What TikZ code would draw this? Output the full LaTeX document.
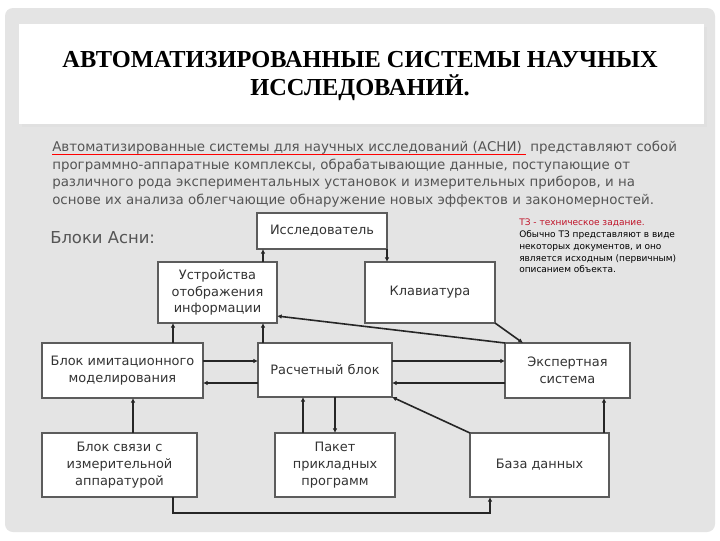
\documentclass[tikz,border=0pt]{standalone}
\usepackage{fontspec}
\setmainfont{DejaVu Sans}
\newfontfamily\titlefont{Liberation Serif}
\usetikzlibrary{arrows.meta,calc}
\definecolor{framegray}{HTML}{E4E4E4}
\definecolor{txtgray}{HTML}{555555}
\definecolor{boxline}{HTML}{5C5C5C}
\definecolor{boxtxt}{HTML}{333333}
\definecolor{noteRed}{HTML}{C0142A}
\newcommand\redul[1]{\leavevmode\setbox0\hbox{#1}\rlap{\textcolor{red}{\rule[-0.35ex]{\wd0}{0.5pt}}}\box0}
\newcommand\mybox[6]{%
  \node[blk,minimum width={0.75pt*(#4-#2)},minimum height={0.75pt*(#5-#3)}]
    (#1) at ({(#2+#4)/2},{(#3+#5)/2}) {#6};}
\tikzset{
  blk/.style={draw=boxline,line width=1.5pt,fill=white,inner sep=1pt,outer sep=0pt,
    align=center,text=boxtxt,font=\fontsize{9.7pt}{12.6pt}\selectfont},
  conn/.style={draw=black!85,line width=1.2pt},
  arr/.style={conn,-{Latex[length=3.5pt,width=3.5pt]}},
}
\begin{document}
\begin{tikzpicture}[x=0.75pt,y=-0.75pt]
\useasboundingbox (0,0) rectangle (720,540);
\fill[white] (0,0) rectangle (720,540);
\fill[framegray,rounded corners=6pt] (5,8) rectangle (715,532);
\fill[black!12] (22,27) rectangle (707,127);
\fill[white] (19,24) rectangle (704,124);
\node[font=\titlefont\bfseries\fontsize{18.3pt}{21pt}\selectfont,align=center] (title) at (360,76)
  {АВТОМАТИЗИРОВАННЫЕ СИСТЕМЫ НАУЧНЫХ\\ИССЛЕДОВАНИЙ.};
\node[anchor=north west,inner sep=0pt,align=left,text=txtgray,
  font=\fontsize{10.05pt}{13.1pt}\selectfont] (para) at (52,141)
  {\redul{Автоматизированные системы для научных исследований (АСНИ)\ }\ представляют собой\\
   программно-аппаратные комплексы, обрабатывающие данные, поступающие от\\
   различного рода экспериментальных установок и измерительных приборов, и на\\
   основе их анализа облегчающие обнаружение новых эффектов и закономерностей.};
\node[anchor=west,inner sep=0pt,text=txtgray,font=\fontsize{12.3pt}{14pt}\selectfont] (bloki) at (50,238) {Блоки Асни:};
\node[anchor=north west,inner sep=0pt,align=left,font=\fontsize{6.75pt}{8.8pt}\selectfont] (note) at (519,219)
  {\textcolor{noteRed}{ТЗ - техническое задание.}\\
   Обычно ТЗ представляют в виде\\
   некоторых документов, и оно\\
   является исходным (первичным)\\
   описанием объекта.};
\mybox{issl}{257}{213}{387}{249}{Исследователь}
\mybox{ust}{158}{262}{277}{323}{Устройства\\отображения\\информации}
\mybox{klav}{365}{262}{495}{323}{Клавиатура}
\mybox{imit}{42}{343}{203}{398}{Блок имитационного\\моделирования}
\mybox{rasch}{258}{343}{392}{397}{Расчетный блок}
\mybox{eksp}{505}{343}{630}{398}{Экспертная\\система}
\mybox{svyaz}{42}{433}{197}{497}{Блок связи с\\измерительной\\аппаратурой}
\mybox{paket}{275}{433}{395}{497}{Пакет\\прикладных\\программ}
\mybox{baza}{470}{433}{609}{497}{База данных}
\draw[arr] (ust.north -| 263,0) -- (issl.south -| 263,0);
\draw[arr] (issl.south east) -- (klav.north -| issl.south east);
\draw[arr] (klav.south east) -- (eksp.north -| 523,0);
\draw[arr] (eksp.north west) -- (ust.east |- 0,316);
\draw[arr] (imit.north -| 173,0) -- (ust.south -| 173,0);
\draw[arr] (rasch.north -| 263,0) -- (ust.south -| 263,0);
\draw[arr] (imit.east |- 0,361) -- (rasch.west |- 0,361);
\draw[arr] (rasch.west |- 0,383) -- (imit.east |- 0,383);
\draw[arr] (rasch.east |- 0,361) -- (eksp.west |- 0,361);
\draw[arr] (eksp.west |- 0,383) -- (rasch.east |- 0,383);
\draw[arr] (svyaz.north -| 133,0) -- (imit.south -| 133,0);
\draw[arr] (paket.north -| 303,0) -- (rasch.south -| 303,0);
\draw[arr] (rasch.south -| 335,0) -- (paket.north -| 335,0);
\draw[arr] (baza.north west) -- (rasch.south east);
\draw[arr] (baza.north -| 604,0) -- (eksp.south -| 604,0);
\draw[arr,line width=0.9pt] (svyaz.south -| 173,0) |- (490,513) -- (baza.south -| 490,0);
\end{tikzpicture}
\end{document}
